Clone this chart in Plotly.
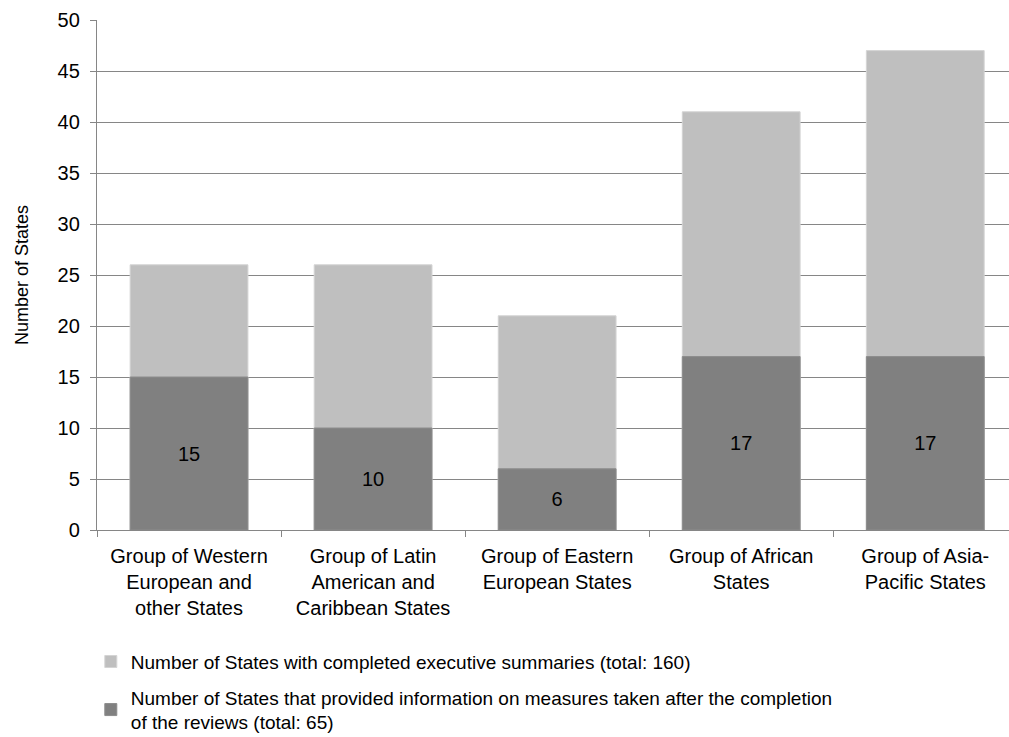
import plotly.graph_objects as go

categories = [
    "Group of Western<br>European and<br>other States",
    "Group of Latin<br>American and<br>Caribbean States",
    "Group of Eastern<br>European States",
    "Group of African<br>States",
    "Group of Asia-<br>Pacific States",
]
completed_summaries = [26, 26, 21, 41, 47]
provided_info = [15, 10, 6, 17, 17]
series_names = [
    "Number of States with completed executive summaries (total: 160)",
    "Number of States that provided information on measures taken after the completion<br>of the reviews (total: 65)",
]
y_title = "Number of States"

FONT = "Liberation Sans, Arial, sans-serif"
GRID = "#868686"
L, R, T, B = 97, 0, 20, 207
W, H = 1009, 737

fig = go.Figure()
fig.add_trace(go.Bar(
    x=categories, y=completed_summaries, name=series_names[0],
    legendgroup="a",
    marker=dict(color="#BFBFBF", line=dict(color="#D4D4D4", width=1)),
    hoverinfo="y",
))
fig.add_trace(go.Bar(
    x=categories, y=provided_info, name=series_names[1],
    legendgroup="b",
    marker=dict(color="#808080", line=dict(color="#8C8C8C", width=1)),
    text=[str(v) for v in provided_info],
    textposition="inside", insidetextanchor="middle",
    textfont=dict(family=FONT, size=20, color="#000000"),
    textangle=0,
    constraintext="none",
    hoverinfo="y",
))

fig.add_annotation(
    text=y_title, textangle=-90, showarrow=False,
    xref="paper", yref="paper",
    x=(22 - L) / (W - L - R), y=0.5, xanchor="center", yanchor="middle",
    font=dict(family=FONT, size=18, color="#000000"),
)

fig.update_layout(
    width=W, height=H,
    margin=dict(l=L, r=R, t=T, b=B, autoexpand=False),
    barmode="overlay", bargap=0.36,
    plot_bgcolor="white", paper_bgcolor="white",
    font=dict(family=FONT, size=19, color="#000000"),
    showlegend=True,
    legend=dict(
        orientation="v", xref="container", yref="container",
        x=0.09, y=0.128, xanchor="left", yanchor="top",
        font=dict(family=FONT, size=19, color="#000000"),
        itemwidth=30, traceorder="grouped", tracegroupgap=8,
        bgcolor="rgba(0,0,0,0)",
    ),
    xaxis=dict(
        range=[-0.5, -0.5 + (W - 97.3) / 184.0],
        showline=True, linecolor=GRID, linewidth=1.3,
        ticks="outside", tickson="boundaries", ticklen=6, tickcolor=GRID, tickwidth=1.3,
        showgrid=False, tickangle=0, ticklabelstandoff=8,
        tickfont=dict(family=FONT, size=20, color="#000000"),
        fixedrange=True,
    ),
    yaxis=dict(
        range=[0, 50], dtick=5, tick0=0,
        showline=True, linecolor=GRID, linewidth=1.3,
        ticks="outside", ticklen=6, tickcolor=GRID, tickwidth=1.3,
        showgrid=True, gridcolor=GRID, gridwidth=1.3,
        zeroline=False, ticklabelstandoff=6,
        tickfont=dict(family=FONT, size=20, color="#000000"),
    ),
)

fig.write_html("out.html")
